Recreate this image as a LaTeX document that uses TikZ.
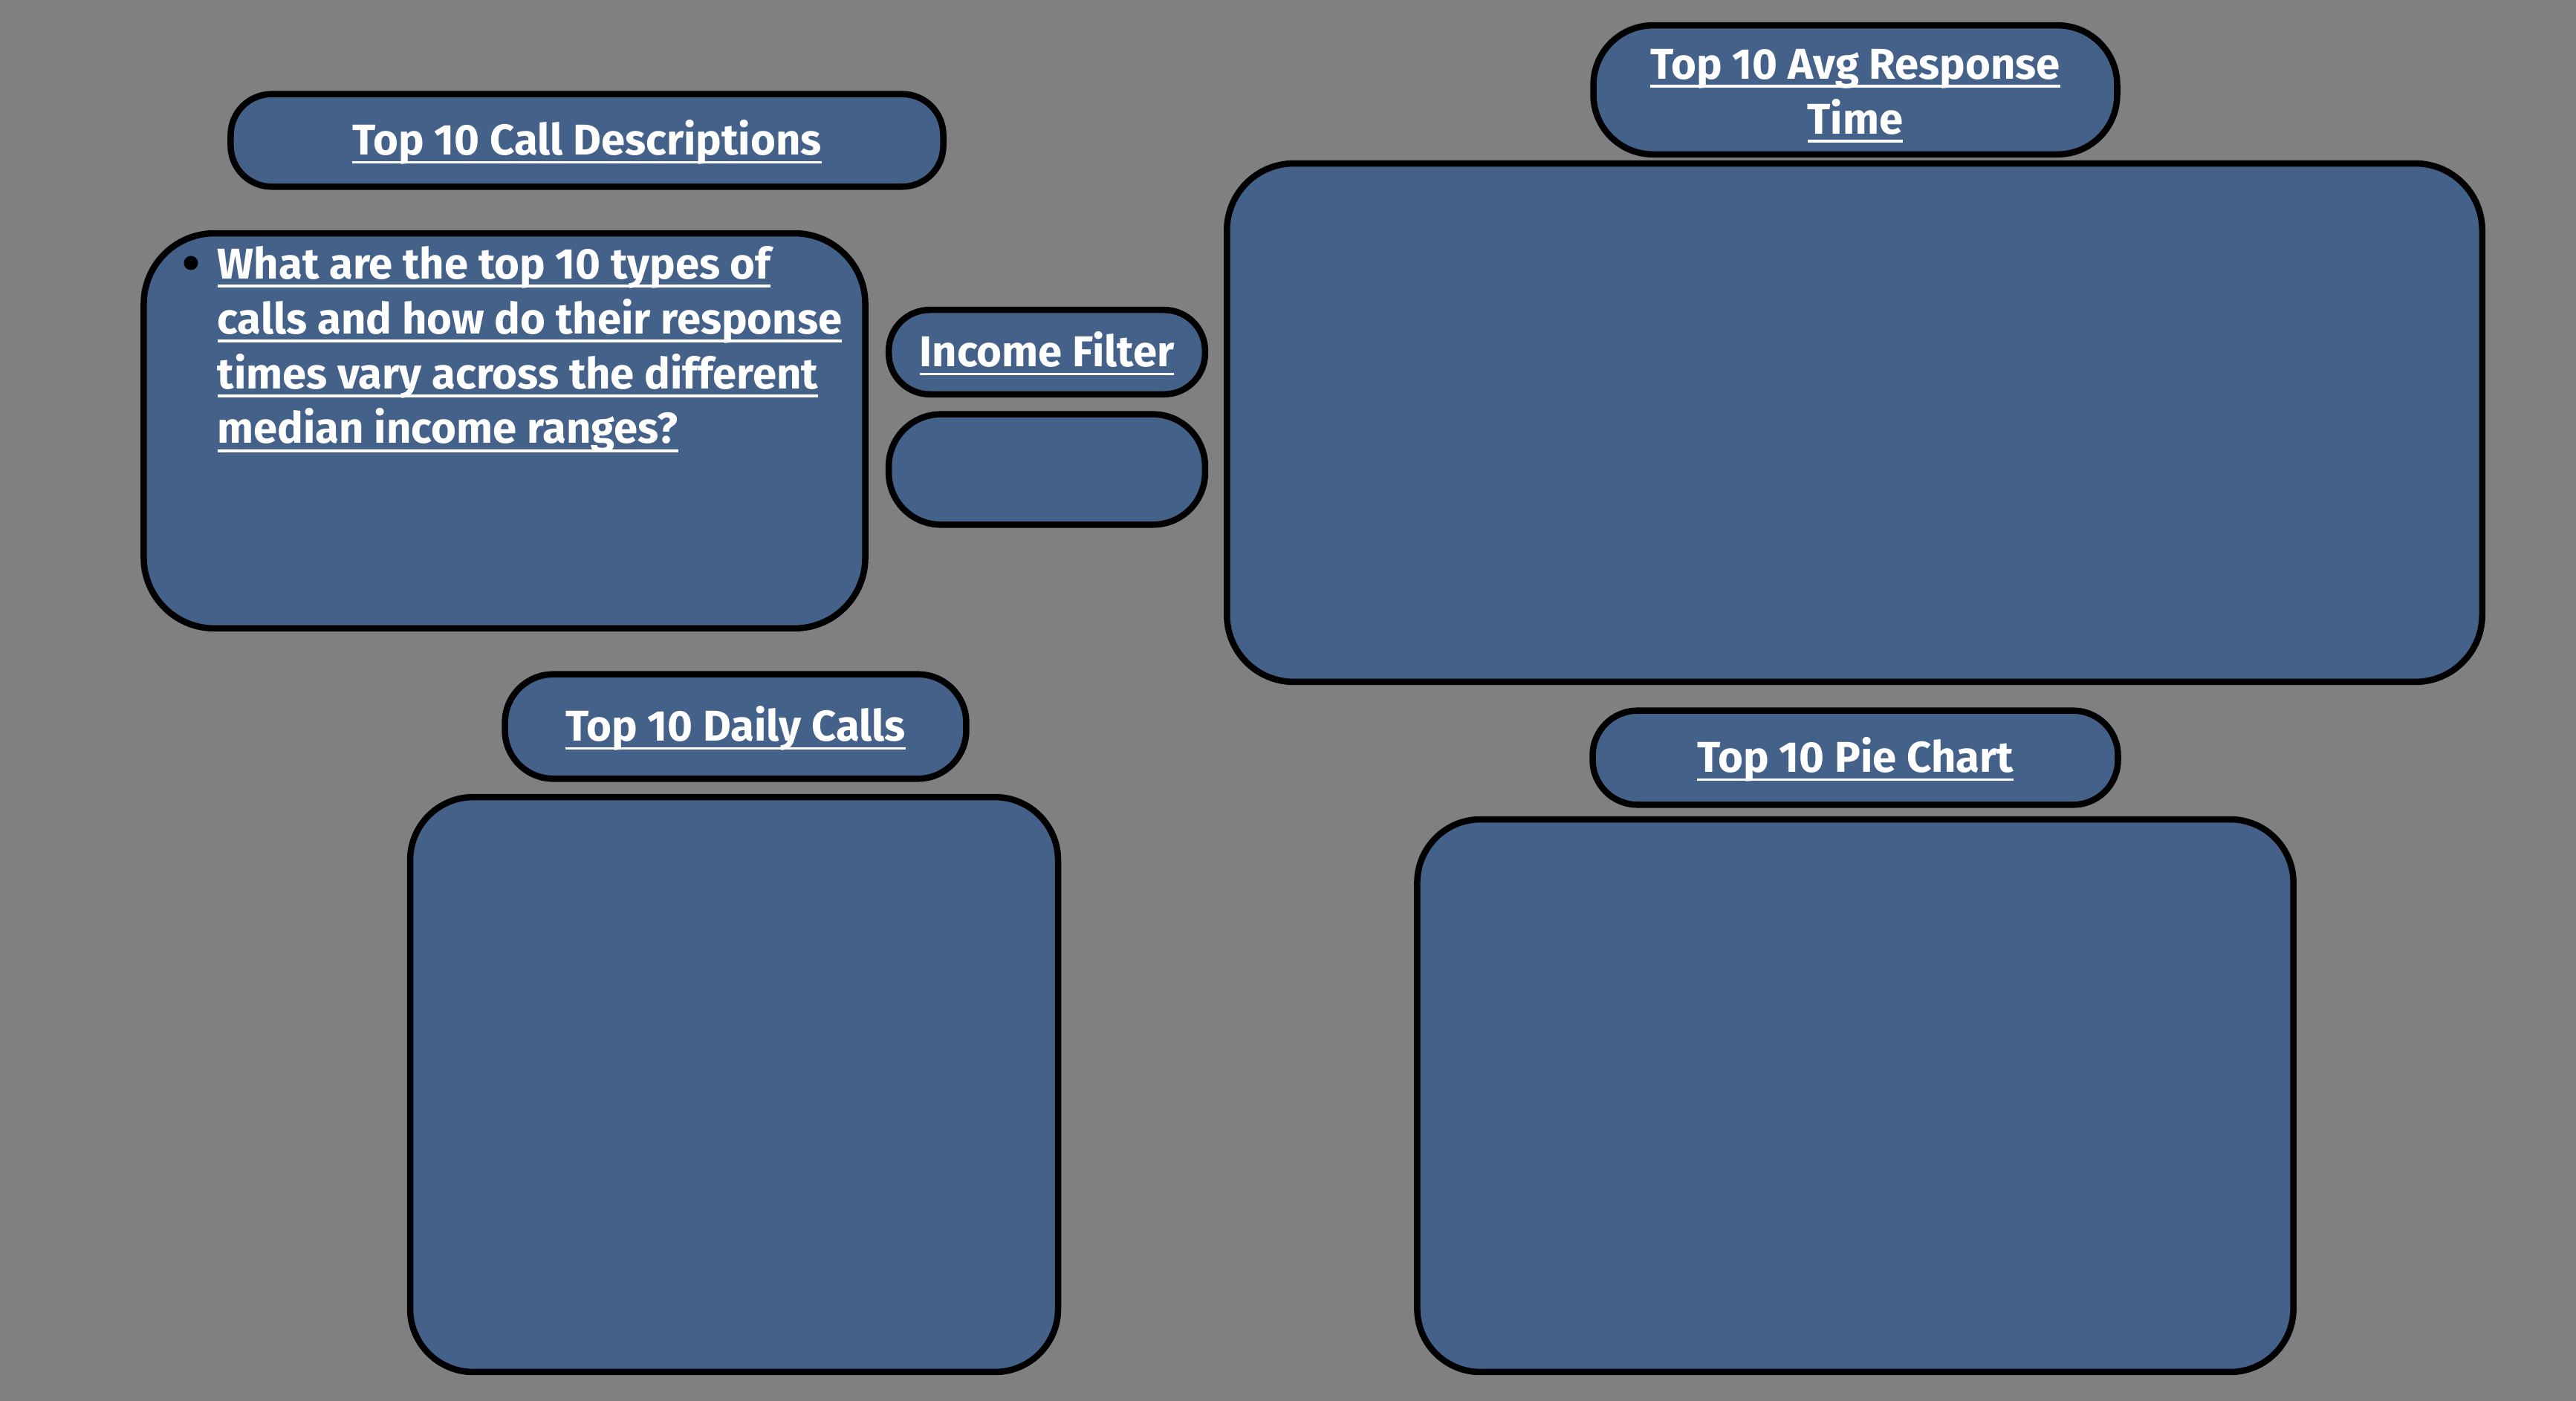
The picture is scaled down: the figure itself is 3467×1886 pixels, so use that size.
\documentclass[tikz,border=0pt]{standalone}
\usepackage{fontspec}
\setmainfont{Fira Sans}
\usetikzlibrary{positioning}
\definecolor{slate}{HTML}{44618A}
\definecolor{canvas}{HTML}{808080}
\newcommand{\uln}[1]{\setbox0\hbox{#1}\rlap{\rule[-1.18mm]{\wd0}{0.38mm}}\box0}

\begin{document}
\begin{tikzpicture}[
  x=0.01cm, y=-0.01cm,
  font=\bfseries\fontsize{16.5}{21}\selectfont,
  panel/.style={draw=black, line width=0.085cm, fill=slate, text=white,
                rounded corners=#1, inner sep=0pt},
  panel/.default=0.9cm,
  pill/.style={panel=#1, align=center, text height=14.6pt, text depth=3.4pt},
  pill/.default=0.55cm,
  dot/.style={circle, fill=black, inner sep=0pt, minimum size=0.19cm}
]
% canvas
\fill[canvas] (0,0) rectangle (3467,1886);
\useasboundingbox (0,0) rectangle (3467,1886);

% left column
\node[pill, minimum width=9.585cm, minimum height=1.245cm] (calltitle) at (790,189)
  {\uln{Top 10 Call Descriptions}};
\node[panel=0.95cm, minimum width=9.705cm, minimum height=5.315cm] (question) at (679,580) {};
\node[dot] (bullet) at (257,354) {};
\node[anchor=base west, text=white, align=left, inner sep=0pt] (questiontext) at (292,597)
  {\uln{What are the top 10 types of}\\
   \uln{calls and how do their response}\\
   \uln{times vary across the different}\\
   \uln{median income ranges?}};

% filter
\node[pill, minimum width=4.255cm, minimum height=1.135cm] (income) at (1409,474)
  {\uln{Income Filter}};
\node[panel=0.7cm, minimum width=4.255cm, minimum height=1.485cm] (slicer) at (1409,632) {};

% response time
\node[pill=0.8cm, text height=37pt, minimum width=7.045cm, minimum height=1.735cm] (avgtitle) at (2497,121)
  {\uln{Top 10 Avg Response}\\\uln{Time}};
\node[panel, minimum width=16.885cm, minimum height=6.975cm] (avgchart) at (2496,569) {};

% daily calls
\node[pill=0.65cm, minimum width=6.205cm, minimum height=1.405cm] (dailytitle) at (990,978)
  {\uln{Top 10 Daily Calls}};
\node[panel=0.85cm, minimum width=8.715cm, minimum height=7.735cm] (dailychart) at (988,1460) {};

% pie chart
\node[pill=0.6cm, minimum width=7.065cm, minimum height=1.265cm] (pietitle) at (2497,1020)
  {\uln{Top 10 Pie Chart}};
\node[panel=0.85cm, minimum width=11.785cm, minimum height=7.435cm] (piechart) at (2497,1475) {};

\end{tikzpicture}
\end{document}
